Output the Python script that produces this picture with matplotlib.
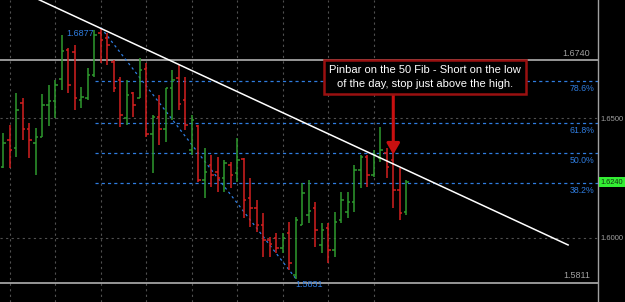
import numpy as np
import matplotlib.pyplot as plt

# daily OHLC bars (oldest first)
opens = [1.6296, 1.6408, 1.6375, 1.6563, 1.6454, 1.6396, 1.6421, 1.6554, 1.6571, 1.6662,
         1.6783, 1.6775, 1.6575, 1.6583, 1.6679, 1.6854, 1.6834, 1.6733, 1.6658, 1.6500,
         1.6604, 1.6583, 1.6704, 1.6433, 1.6504, 1.6454, 1.6625, 1.6667, 1.6575, 1.6367,
         1.6467, 1.6242, 1.6304, 1.6275, 1.6250, 1.6304, 1.6271, 1.6329, 1.6167, 1.6125,
         1.6054, 1.5992, 1.6000, 1.5958, 1.6021, 1.5846, 1.6054, 1.6096, 1.6125, 1.5971,
         1.6042, 1.5950, 1.6075, 1.6108, 1.6150, 1.6283, 1.6338, 1.6263, 1.6333, 1.6354,
         1.6325, 1.6200, 1.6108]
highs = [1.6438, 1.6471, 1.6604, 1.6583, 1.6479, 1.6458, 1.6600, 1.6638, 1.6658, 1.6846,
         1.6792, 1.6804, 1.6629, 1.6708, 1.6867, 1.6877, 1.6854, 1.6742, 1.6671, 1.6658,
         1.6608, 1.6750, 1.6729, 1.6513, 1.6596, 1.6625, 1.6700, 1.6721, 1.6671, 1.6513,
         1.6471, 1.6375, 1.6346, 1.6338, 1.6325, 1.6317, 1.6417, 1.6333, 1.6250, 1.6158,
         1.6104, 1.6004, 1.6021, 1.6021, 1.6067, 1.6088, 1.6229, 1.6242, 1.6150, 1.6063,
         1.6063, 1.6108, 1.6192, 1.6192, 1.6304, 1.6346, 1.6346, 1.6367, 1.6463, 1.6375,
         1.6358, 1.6292, 1.6242]
lows = [1.6292, 1.6292, 1.6338, 1.6408, 1.6333, 1.6263, 1.6421, 1.6467, 1.6500, 1.6617,
        1.6604, 1.6533, 1.6542, 1.6575, 1.6671, 1.6729, 1.6721, 1.6608, 1.6463, 1.6471,
        1.6504, 1.6583, 1.6421, 1.6271, 1.6388, 1.6400, 1.6492, 1.6533, 1.6450, 1.6346,
        1.6233, 1.6167, 1.6213, 1.6192, 1.6192, 1.6208, 1.6233, 1.6083, 1.6046, 1.6025,
        1.5921, 1.5921, 1.5938, 1.5938, 1.5867, 1.5831, 1.6054, 1.6063, 1.5963, 1.5938,
        1.5896, 1.5921, 1.6063, 1.6083, 1.6108, 1.6208, 1.6213, 1.6254, 1.6317, 1.6250,
        1.6125, 1.6075, 1.6096]
closes = [1.6396, 1.6367, 1.6533, 1.6454, 1.6408, 1.6421, 1.6554, 1.6571, 1.6638, 1.6779,
          1.6638, 1.6583, 1.6588, 1.6679, 1.6846, 1.6825, 1.6804, 1.6625, 1.6513, 1.6596,
          1.6554, 1.6700, 1.6433, 1.6504, 1.6454, 1.6625, 1.6658, 1.6558, 1.6471, 1.6492,
          1.6242, 1.6275, 1.6263, 1.6250, 1.6313, 1.6263, 1.6325, 1.6158, 1.6125, 1.6054,
          1.5992, 1.5975, 1.5958, 1.6000, 1.5896, 1.6075, 1.6188, 1.6113, 1.6033, 1.6033,
          1.5950, 1.6067, 1.6158, 1.6150, 1.6283, 1.6338, 1.6263, 1.6346, 1.6367, 1.6296,
          1.6200, 1.6104, 1.6233]

swing_high = 1.6877
swing_low = 1.5831
high_bar, low_bar = 15, 45
fib_ratios = [0.382, 0.5, 0.618, 0.786]
fib_labels = ["38.2%", "50.0%", "61.8%", "78.6%"]
level_lines = [1.6740, 1.5811]
grid_prices = [1.65, 1.60]
trend_pts = ([5.0, 86.9], [1.6999, 1.5971])
last_price = "1.6240"
note = "Pinbar on the 50 Fib - Short on the low\nof the day, stop just above the high."

n = len(opens)
x = np.arange(n)
up = np.array(closes) >= np.array(opens)
cols = np.where(up, "#2e9a2e", "#d42020")

fig = plt.figure(figsize=(6.25, 3.02), dpi=100, facecolor="black")
ax = fig.add_axes([0, 0, 598 / 625, 1])
ax.set_facecolor("black")
ax.set_xlim(-0.51, 91.5)
ax.set_ylim(1.57333, 1.69917)

# grid
for g in range(1, 58, 7):
    ax.axvline(g, color="#505050", lw=0.8, ls=(0, (2, 3)), zorder=0)
for p in grid_prices:
    ax.axhline(p, color="#505050", lw=0.8, ls=(0, (2, 3)), zorder=0)

# horizontal levels
for p in level_lines:
    ax.axhline(p, color="#b0b0b0", lw=1.2, zorder=1)
ax.text(90.3, level_lines[0] + 0.0012, "1.6740", color="#a0a0a0", fontsize=6.5,
        ha="right", va="bottom", family="Liberation Sans")
ax.text(90.3, level_lines[1] + 0.0012, "1.5811", color="#a0a0a0", fontsize=6.5,
        ha="right", va="bottom", family="Liberation Sans")

# fibonacci retracement
fib_blue = "#2f7de0"
ax.plot([high_bar, low_bar], [swing_high, swing_low], color=fib_blue, lw=0.9,
        ls=(0, (2, 2.5)), zorder=2)
rng = swing_high - swing_low
for r, lab in zip(fib_ratios, fib_labels):
    lvl = swing_low + r * rng
    ax.plot([14.1, 91.5], [lvl, lvl], color=fib_blue, lw=0.9, ls=(0, (2.5, 2.5)), zorder=2)
    ax.text(90.9, lvl - 0.0012, lab, color=fib_blue, fontsize=6.3, ha="right", va="top",
            family="Liberation Sans")
ax.text(13.9, swing_high - 0.0025, "1.6877", color=fib_blue, fontsize=6.5, ha="right",
        va="center", family="Liberation Sans")
ax.text(45, swing_low - 0.0008, "1.5831", color=fib_blue, fontsize=6.5, ha="left",
        va="top", family="Liberation Sans")

# OHLC bars
ax.vlines(x, lows, highs, colors=cols, lw=1.1, zorder=3)
ax.hlines(opens, x - 0.38, x, colors=cols, lw=1.1, zorder=3)
ax.hlines(closes, x, x + 0.38, colors=cols, lw=1.1, zorder=3)

# trend line
ax.plot(trend_pts[0], trend_pts[1], color="white", lw=1.1, zorder=4)

# annotation
ax.annotate("", xy=(60, 1.6348), xytext=(60, 1.6596),
            arrowprops=dict(arrowstyle="-|>,head_width=0.38,head_length=0.65",
                            color="#c81010", lw=2.2, shrinkA=0, shrinkB=0), zorder=5)
ax.text(64.9, 1.6671, note, color="white", fontsize=8, ha="center", va="center",
        family="Liberation Sans", linespacing=1.5, zorder=6,
        bbox=dict(boxstyle="square,pad=0.45", fc="black", ec="#9a1010", lw=1.8))

# right price axis
for s in ["top", "bottom", "left"]:
    ax.spines[s].set_visible(False)
ax.spines["right"].set_color("#a0a0a0")
ax.spines["right"].set_linewidth(1)
ax.set_xticks([])
ax.yaxis.tick_right()
ax.set_yticks(grid_prices)
ax.set_yticklabels(["1.6500", "1.6000"], family="Liberation Sans")
ax.tick_params(axis="y", length=0, pad=2, labelsize=5.5, labelcolor="#a0a0a0")
ax.text(1.004, (closes[-1] - 1.57333) / (1.69917 - 1.57333), last_price,
        transform=ax.transAxes, fontsize=5.3, color="#103010", ha="left", va="center",
        family="Liberation Sans",
        bbox=dict(boxstyle="square,pad=0.25", fc="#33ee33", ec="none"))

fig.savefig("out.png", dpi=100, facecolor="black")
